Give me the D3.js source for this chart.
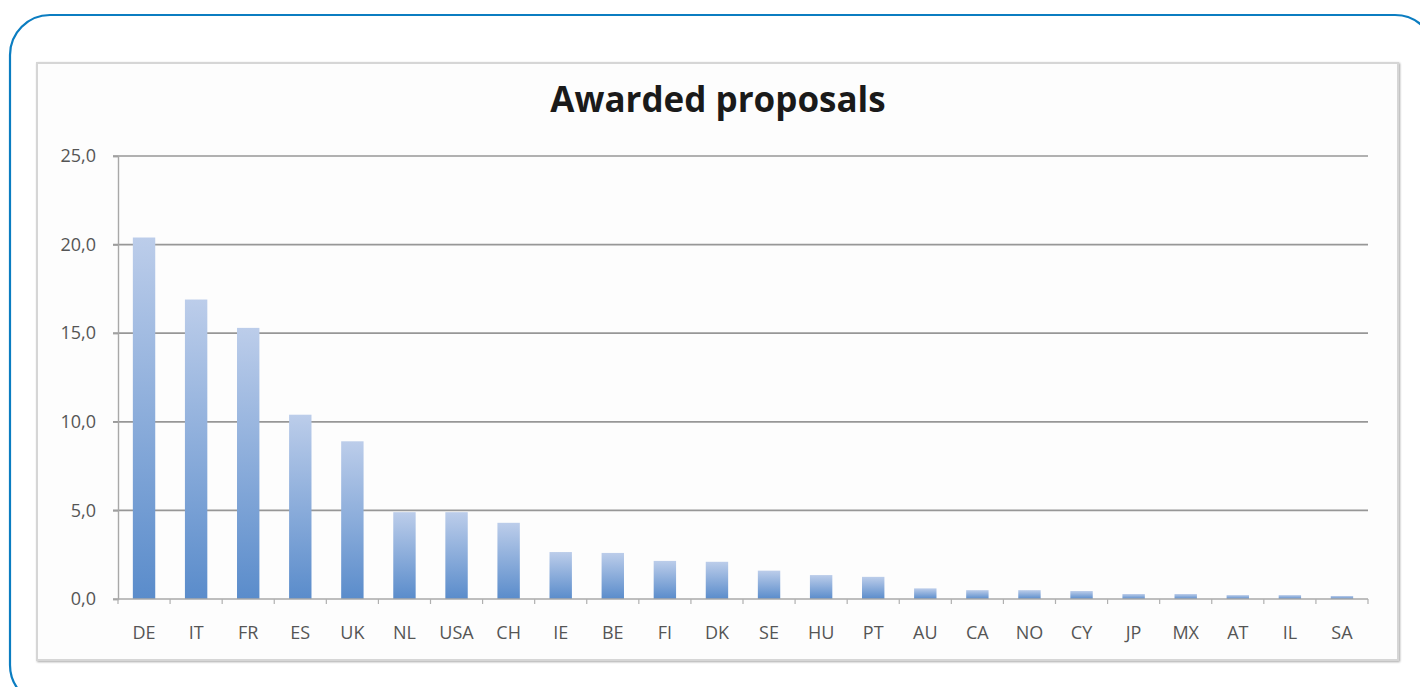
<!DOCTYPE html>
<html>
<head>
<meta charset="utf-8">
<script src="https://cdn.jsdelivr.net/npm/d3@7"></script>
<style>
  html, body { margin: 0; padding: 0; background: #ffffff; }
  svg { display: block; }
</style>
</head>
<body>
<svg id="chart" width="1420" height="687"></svg>
<script>
// Share of awarded proposals by country (%)
const countries = ["DE","IT","FR","ES","UK","NL","USA","CH","IE","BE","FI","DK","SE","HU","PT","AU","CA","NO","CY","JP","MX","AT","IL","SA"];
const shares    = [20.4, 16.9, 15.3, 10.4, 8.9, 4.9, 4.9, 4.3, 2.65, 2.6, 2.15, 2.1, 1.6, 1.35, 1.25, 0.6, 0.5, 0.5, 0.45, 0.28, 0.28, 0.22, 0.22, 0.17];
const yTicks    = [0, 5, 10, 15, 20, 25];
const chartTitle = "Awarded proposals";

const svg = d3.select("#chart");
const defs = svg.append("defs");
const fontStack = "'Open Sans', 'DejaVu Sans', sans-serif";

// outer rounded frame
svg.append("rect")
  .attr("x", 10).attr("y", 15)
  .attr("width", 1425).attr("height", 690)
  .attr("rx", 40).attr("ry", 40)
  .attr("fill", "#ffffff")
  .attr("stroke", "#0b7dc1")
  .attr("stroke-width", 2.2);

// chart panel with soft grey edge
const shadow = defs.append("filter").attr("id", "panelShadow")
  .attr("x", "-2%").attr("y", "-2%").attr("width", "104%").attr("height", "104%");
shadow.append("feGaussianBlur").attr("in", "SourceAlpha").attr("stdDeviation", 1.2).attr("result", "b");
shadow.append("feOffset").attr("in", "b").attr("dx", 0.5).attr("dy", 1).attr("result", "o");
shadow.append("feComponentTransfer").attr("in", "o").attr("result", "s")
  .append("feFuncA").attr("type", "linear").attr("slope", 0.35);
const merge = shadow.append("feMerge");
merge.append("feMergeNode").attr("in", "s");
merge.append("feMergeNode").attr("in", "SourceGraphic");

svg.append("rect")
  .attr("x", 37).attr("y", 63)
  .attr("width", 1361).attr("height", 597)
  .attr("fill", "#fdfdfd")
  .attr("stroke", "#d6d6d6")
  .attr("stroke-width", 2)
  .attr("filter", "url(#panelShadow)");

// title
svg.append("text")
  .attr("x", 718).attr("y", 112)
  .attr("text-anchor", "middle")
  .attr("font-family", fontStack)
  .attr("font-weight", 700)
  .attr("font-size", 35)
  .attr("fill", "#1a1a1a")
  .text(chartTitle);

// scales
const plot = { left: 118, right: 1368, top: 156, bottom: 599 };
const x = d3.scaleBand().domain(countries).range([plot.left, plot.right]).paddingInner(0.57).paddingOuter(0.285);
const xEdges = d3.scaleBand().domain(countries).range([plot.left, plot.right]).padding(0);
const y = d3.scaleLinear().domain([0, 25]).range([plot.bottom, plot.top]);

const fmt = v => d3.format(".1f")(v).replace(".", ",");

// gridlines
svg.append("g")
  .selectAll("line")
  .data(yTicks.filter(d => d > 0))
  .join("line")
  .attr("x1", plot.left - 5).attr("x2", plot.right)
  .attr("y1", d => y(d)).attr("y2", d => y(d))
  .attr("stroke", "#979797")
  .attr("stroke-width", 1.7);

// y axis
const yAxis = svg.append("g")
  .attr("transform", `translate(${plot.left},0)`)
  .call(d3.axisLeft(y).tickValues(yTicks).tickFormat(fmt).tickSize(5).tickPadding(17));
yAxis.select(".domain").attr("stroke", "#a8a8a8").attr("stroke-width", 1.4);
yAxis.selectAll(".tick line").attr("stroke", "#a0a0a0").attr("stroke-width", 1.4);
yAxis.selectAll("text")
  .attr("font-family", fontStack)
  .attr("font-size", 18)
  .attr("fill", "#555555");

// bar gradient: light top fading to deeper blue at base
const grad = defs.append("linearGradient").attr("id", "barFill")
  .attr("x1", 0).attr("y1", 0).attr("x2", 0).attr("y2", 1);
grad.append("stop").attr("offset", "0%").attr("stop-color", "#bccdea");
grad.append("stop").attr("offset", "100%").attr("stop-color", "#5a8ccb");

svg.append("g")
  .selectAll("rect")
  .data(countries.map((c, i) => ({ c, v: shares[i] })))
  .join("rect")
  .attr("x", d => x(d.c))
  .attr("width", x.bandwidth())
  .attr("y", d => y(d.v))
  .attr("height", d => y(0) - y(d.v))
  .attr("fill", "url(#barFill)");

// x axis with ticks between categories
const xAxisG = svg.append("g").attr("transform", `translate(0,${plot.bottom})`);
xAxisG.append("line")
  .attr("x1", plot.left - 5).attr("x2", plot.right)
  .attr("y1", 0).attr("y2", 0)
  .attr("stroke", "#a8a8a8").attr("stroke-width", 1.4);
const edgeVals = countries.map(c => xEdges(c)).concat([plot.right]);
xAxisG.selectAll("line.tk")
  .data(edgeVals)
  .join("line")
  .attr("class", "tk")
  .attr("x1", d => d).attr("x2", d => d)
  .attr("y1", 0).attr("y2", 5)
  .attr("stroke", "#b0b0b0").attr("stroke-width", 1.2);
xAxisG.selectAll("text")
  .data(countries)
  .join("text")
  .attr("x", d => xEdges(d) + xEdges.bandwidth() / 2)
  .attr("y", 40)
  .attr("text-anchor", "middle")
  .attr("font-family", fontStack)
  .attr("font-size", 18)
  .attr("fill", "#555555")
  .text(d => d);
</script>
</body>
</html>
